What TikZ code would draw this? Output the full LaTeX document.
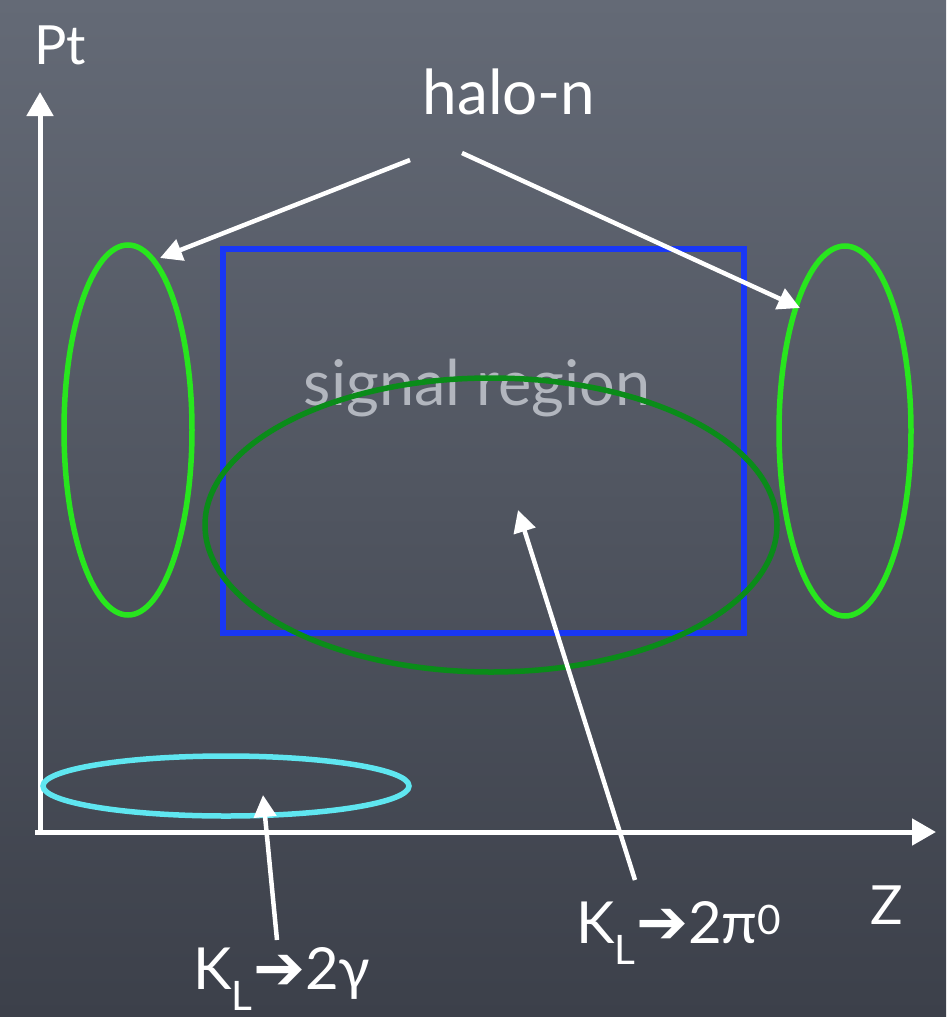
\documentclass[tikz,border=0pt]{standalone}
\usepackage{fontspec}
\setmainfont{Lato}
\newfontfamily\symfont{DejaVu Sans}
\usetikzlibrary{arrows.meta}
\definecolor{boardtop}{RGB}{100,106,118}
\definecolor{boardbot}{RGB}{60,64,74}
\definecolor{halogreen}{RGB}{40,230,30}
\definecolor{sigblue}{RGB}{25,55,245}
\definecolor{pigreen}{RGB}{10,140,25}
\definecolor{gamcyan}{RGB}{95,230,240}
\definecolor{faint}{RGB}{178,182,190}
\tikzset{
  axisline/.style={draw=white, line width=5pt, -{Triangle[length=24pt,width=26pt]}},
  pointer/.style={draw=white, line width=4.5pt, -{Triangle[length=22pt,width=22pt]}},
  lbl/.style={text=white, font=\fontsize{54}{60}\selectfont, inner sep=0pt},
  decay/.style={text=white, font=\fontsize{58}{64}\selectfont, inner sep=0pt},
  ringline/.style={line width=5.5pt},
}
\newcommand{\decayarrow}{{\symfont\fontsize{62}{62}\selectfont➔}}
\begin{document}
\begin{tikzpicture}[x=1pt,y=-1pt]
\useasboundingbox (0,0) rectangle (946,1017);
\shade[top color=boardtop, bottom color=boardbot] (0,0) rectangle (946,1017);

% axes
\coordinate (origin) at (40,832);
\coordinate (ytip) at (40,92);
\coordinate (xorigin) at (35,832);
\coordinate (xtip) at (936,832);
\draw[axisline] (origin) -- (ytip);
\draw[axisline] (xorigin) -- (xtip);
\node[lbl] (pt) at (60,45) {Pt};
\node[lbl] (z) at (887,905) {Z};

% regions
\draw[sigblue, line width=6pt] (223,249) rectangle (744,633);
\node[text=faint, font=\fontsize{63}{70}\selectfont, inner sep=0pt] (sig) at (477,388) {signal region};
\draw[pigreen, ringline] (491,525) ellipse [x radius=286, y radius=147];
\draw[halogreen, ringline] (128,430) ellipse [x radius=64, y radius=185];
\draw[halogreen, ringline] (845,431) ellipse [x radius=66, y radius=185];
\draw[gamcyan, ringline] (226,786) ellipse [x radius=183, y radius=30];

% halo-n
\node[lbl, font=\fontsize{62}{68}\selectfont] (halo) at (509,92) {halo-n};
\coordinate (haloL) at (410,160);
\coordinate (haloR) at (462,153);
\coordinate (haloLtip) at (160,258);
\coordinate (haloRtip) at (800,308);
\draw[pointer] (haloL) -- (haloLtip);
\draw[pointer] (haloR) -- (haloRtip);

% K_L -> 2pi0
\node[decay] (kpi) at (679,933) {K\textsubscript{L}\decayarrow2π\textsuperscript{0}};
\coordinate (kpiS) at (635,880);
\coordinate (kpiT) at (518,510);
\draw[pointer] (kpiS) -- (kpiT);

% K_L -> 2gamma
\node[decay] (kgam) at (282,979) {K\textsubscript{L}\decayarrow2γ};
\coordinate (kgS) at (277,940);
\coordinate (kgT) at (263,795);
\draw[pointer] (kgS) -- (kgT);
\end{tikzpicture}
\end{document}
